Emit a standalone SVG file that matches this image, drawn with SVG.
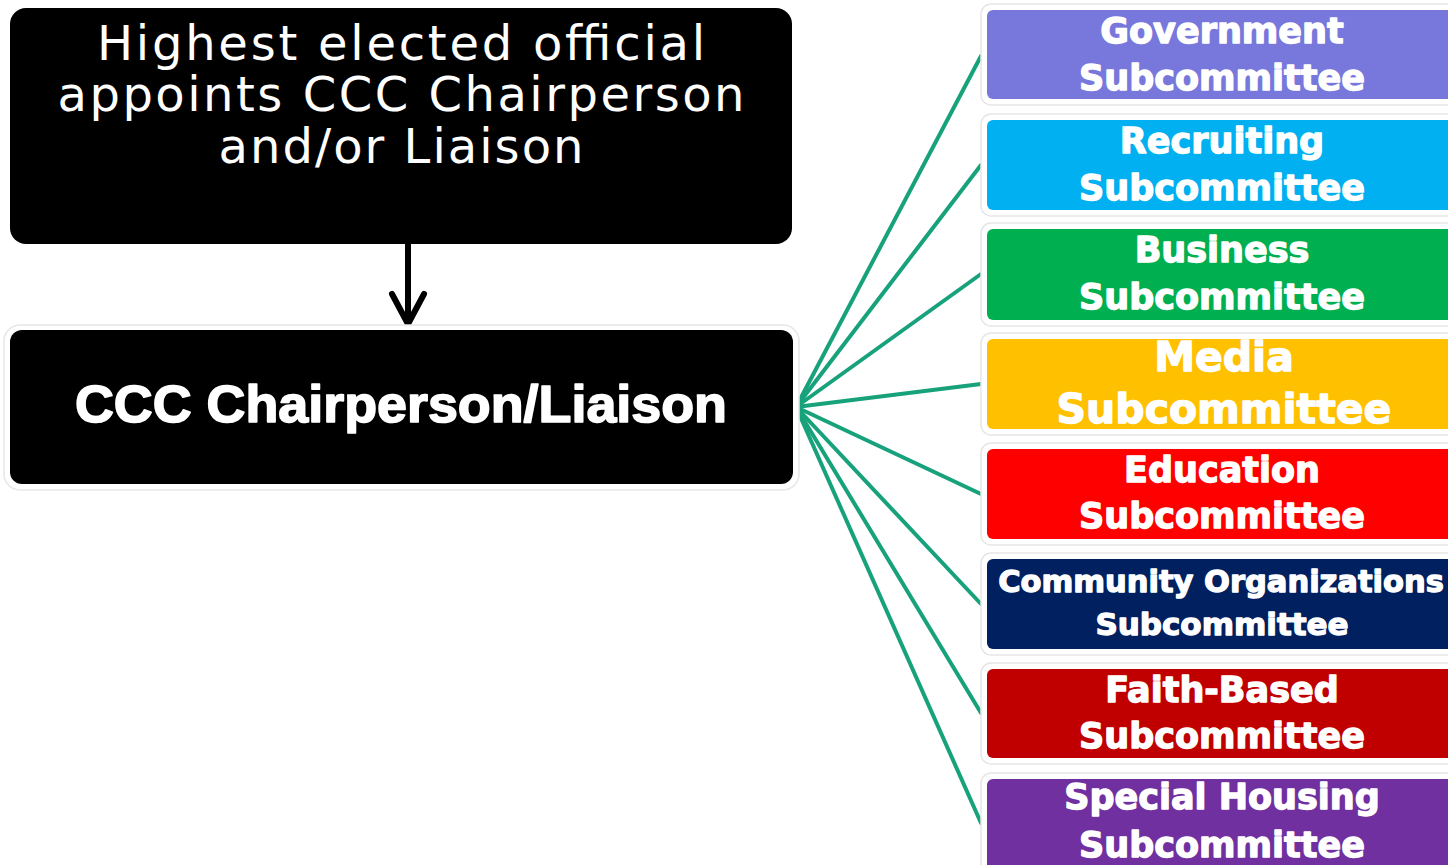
<svg xmlns="http://www.w3.org/2000/svg" width="1448" height="865" viewBox="0 0 1448 865">
<style>
.halo{fill:#ffffff;stroke:#e6e6e6;stroke-width:1.5}
.sub{font-family:"DejaVu Sans","Verdana",sans-serif;font-weight:bold;font-size:35px;fill:#ffffff;stroke:#ffffff;stroke-width:1.3;stroke-linejoin:round;text-anchor:middle}
.top{font-family:"DejaVu Sans","Liberation Sans",sans-serif;font-size:48px;fill:#ffffff;text-anchor:middle}
.chair{font-family:"Liberation Sans","Arial",sans-serif;font-weight:bold;font-size:52px;fill:#ffffff;stroke:#ffffff;stroke-width:1.6;stroke-linejoin:round;text-anchor:middle}
.link{stroke:#17a27c;stroke-width:4;fill:none;stroke-linecap:round}
</style>
<rect width="1448" height="865" fill="#ffffff"/>
<g id="connectors">
  <path d="M408 244 L408 322" stroke="#000" stroke-width="6" fill="none"/>
  <path d="M392 294 L408 324 L424 294" stroke="#000" stroke-width="6" fill="none" stroke-linecap="round" stroke-linejoin="round"/>
  <g class="link">
    <line x1="796" y1="407" x2="981" y2="56"/>
    <line x1="796" y1="407" x2="981" y2="165"/>
    <line x1="796" y1="407" x2="981" y2="274"/>
    <line x1="796" y1="407" x2="981" y2="384"/>
    <line x1="796" y1="407" x2="981" y2="494"/>
    <line x1="796" y1="407" x2="981" y2="604"/>
    <line x1="796" y1="407" x2="981" y2="713"/>
    <line x1="796" y1="407" x2="981" y2="823"/>
  </g>
</g>
<g id="official">
  <rect x="10" y="8" width="782" height="236" rx="16" fill="#000000"/>
  <text class="top" x="401" y="60" textLength="608" lengthAdjust="spacing">Highest elected official</text>
  <text class="top" x="401" y="111" textLength="687" lengthAdjust="spacing">appoints CCC Chairperson</text>
  <text class="top" x="401" y="163" textLength="365" lengthAdjust="spacing">and/or Liaison</text>
</g>
<g id="chair">
  <rect class="halo" x="4" y="325" width="795" height="165" rx="16"/>
  <rect x="10" y="330" width="783" height="154" rx="12" fill="#000000"/>
  <text class="chair" x="401" y="422" textLength="652" lengthAdjust="spacingAndGlyphs">CCC Chairperson/Liaison</text>
</g>
<g id="government">
  <rect class="halo" x="981" y="4" width="480" height="101" rx="10"/>
  <rect x="987" y="10" width="470" height="89" rx="6" fill="#7878dc"/>
  <text class="sub" x="1222" y="43">Government</text>
  <text class="sub" x="1222" y="90">Subcommittee</text>
</g>
<g id="recruiting">
  <rect class="halo" x="981" y="114" width="480" height="102" rx="10"/>
  <rect x="987" y="120" width="470" height="90" rx="6" fill="#00b0f0"/>
  <text class="sub" x="1222" y="153">Recruiting</text>
  <text class="sub" x="1222" y="200">Subcommittee</text>
</g>
<g id="business">
  <rect class="halo" x="981" y="223" width="480" height="103" rx="10"/>
  <rect x="987" y="229" width="470" height="91" rx="6" fill="#00b050"/>
  <text class="sub" x="1222" y="262">Business</text>
  <text class="sub" x="1222" y="309">Subcommittee</text>
</g>
<g id="media">
  <rect class="halo" x="981" y="333" width="480" height="102" rx="10"/>
  <rect x="987" y="339" width="470" height="90" rx="6" fill="#ffc000"/>
  <text class="sub" x="1224" y="371" style="font-size:41px">Media</text>
  <text class="sub" x="1224" y="423" style="font-size:41px">Subcommittee</text>
</g>
<g id="education">
  <rect class="halo" x="981" y="443" width="480" height="102" rx="10"/>
  <rect x="987" y="449" width="470" height="90" rx="6" fill="#ff0000"/>
  <text class="sub" x="1222" y="482">Education</text>
  <text class="sub" x="1222" y="528">Subcommittee</text>
</g>
<g id="community">
  <rect class="halo" x="981" y="553" width="480" height="102" rx="10"/>
  <rect x="987" y="559" width="470" height="90" rx="6" fill="#002060"/>
  <text class="sub" x="1221" y="592" style="font-size:30.5px">Community Organizations</text>
  <text class="sub" x="1222" y="635" style="font-size:31px">Subcommittee</text>
</g>
<g id="faith">
  <rect class="halo" x="981" y="663" width="480" height="101" rx="10"/>
  <rect x="987" y="669" width="470" height="89" rx="6" fill="#c00000"/>
  <text class="sub" x="1222" y="702">Faith-Based</text>
  <text class="sub" x="1222" y="748">Subcommittee</text>
</g>
<g id="housing">
  <rect class="halo" x="981" y="773" width="480" height="110" rx="10"/>
  <rect x="987" y="779" width="470" height="100" rx="6" fill="#7030a0"/>
  <text class="sub" x="1222" y="809">Special Housing</text>
  <text class="sub" x="1222" y="857">Subcommittee</text>
</g>
</svg>
